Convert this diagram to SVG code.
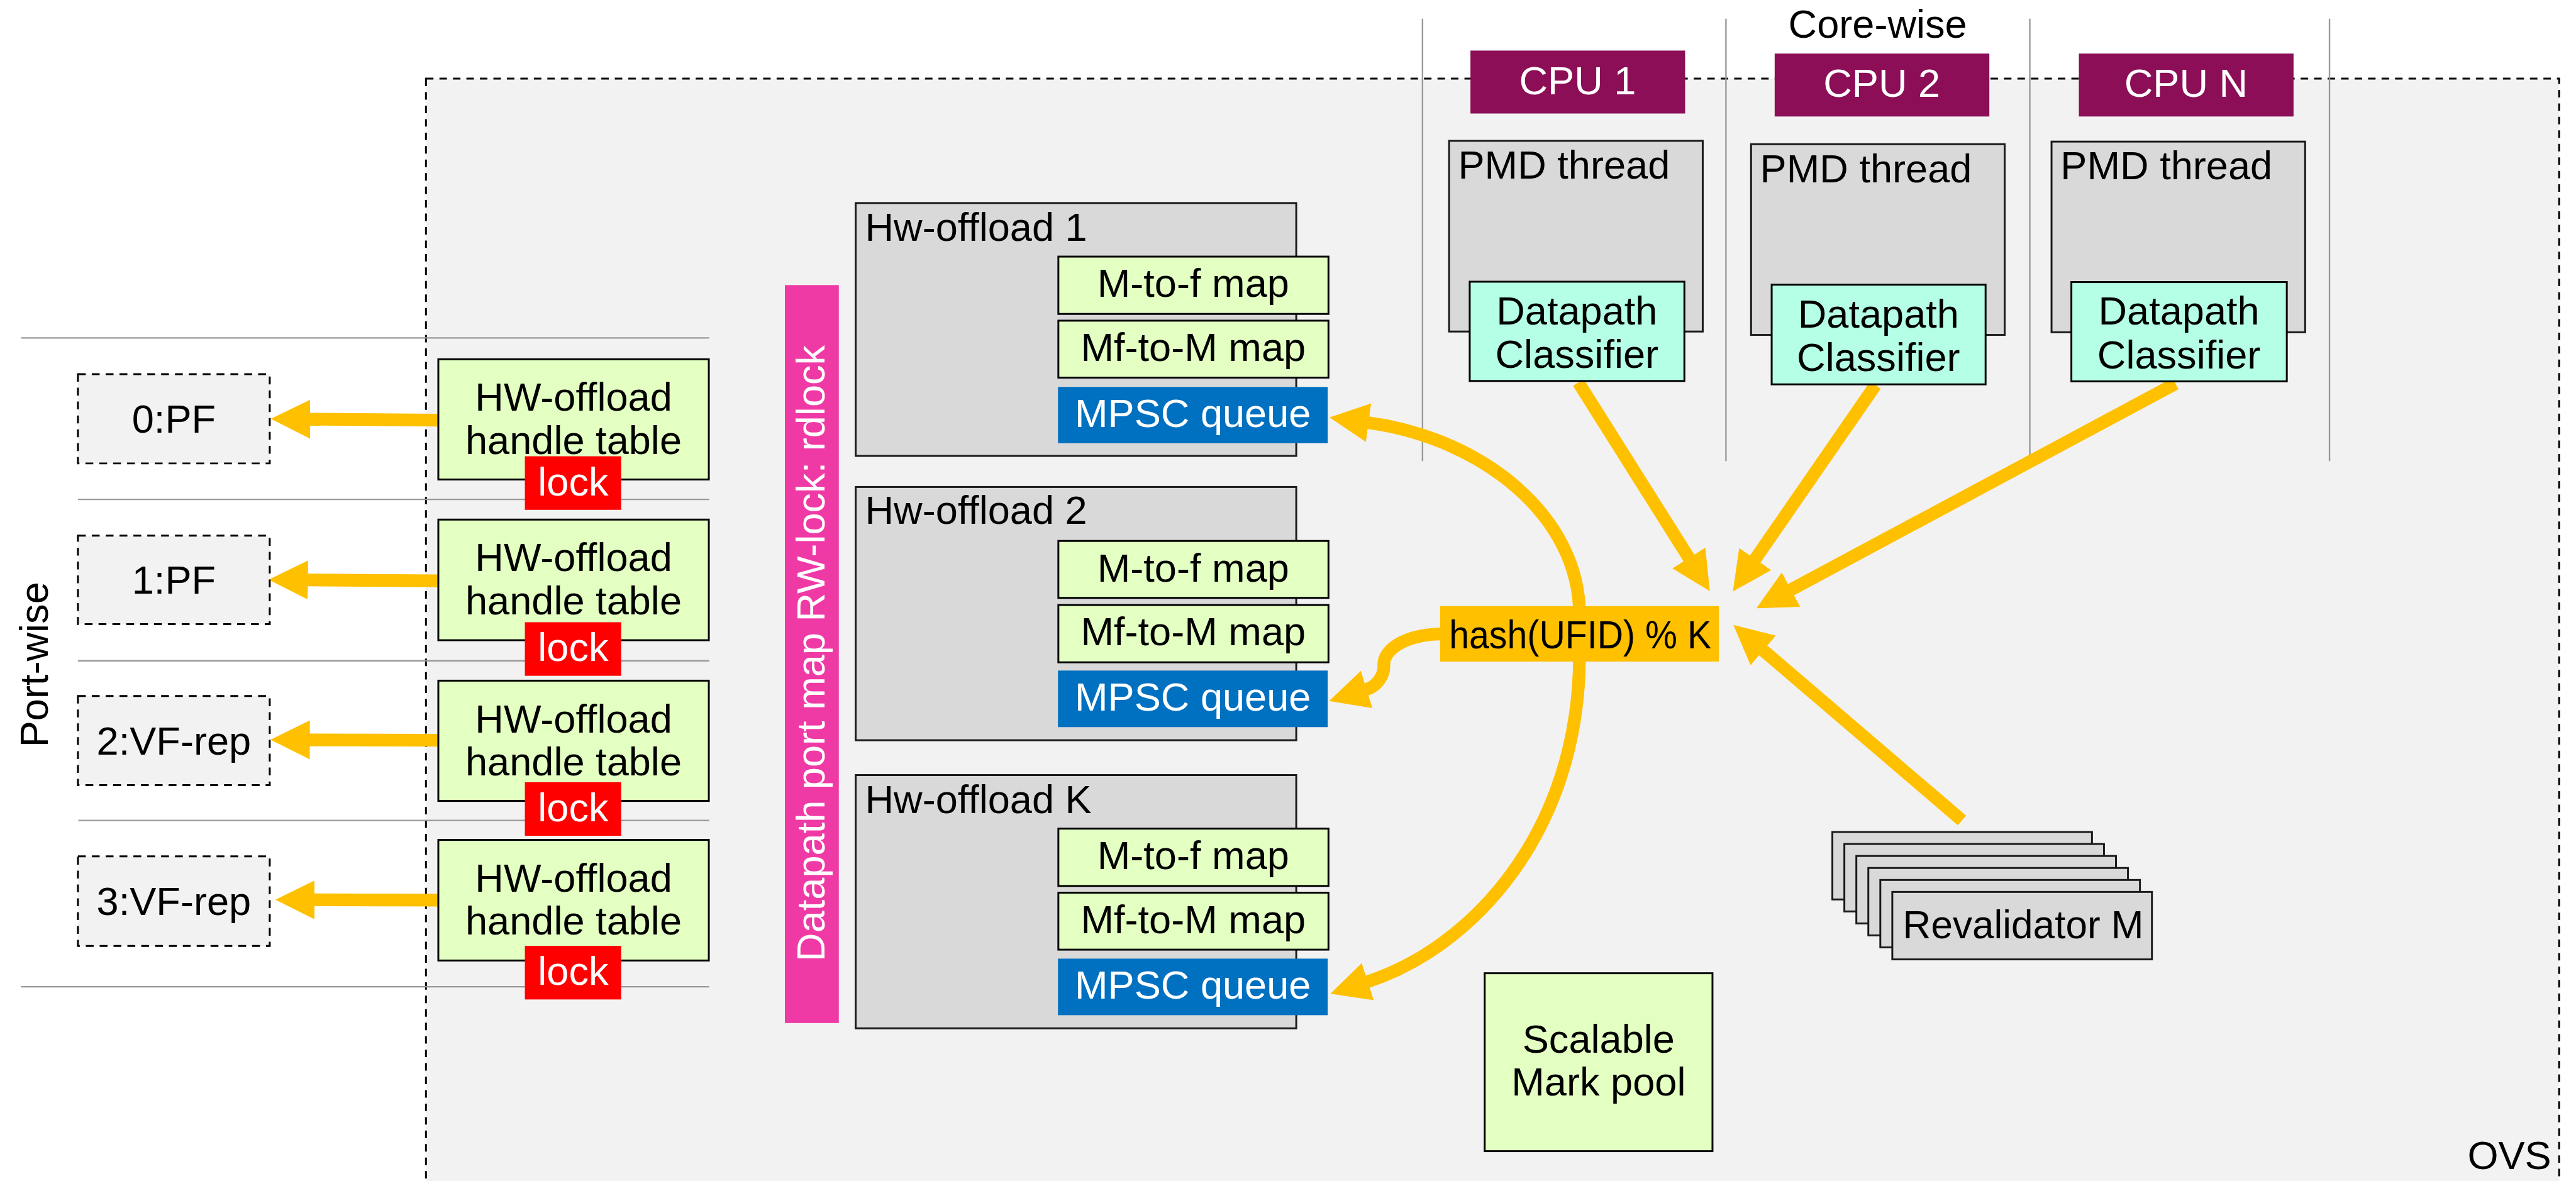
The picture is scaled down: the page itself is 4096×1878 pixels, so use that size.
<svg xmlns="http://www.w3.org/2000/svg" width="4096" height="1878" viewBox="0 0 4096 1878">
<defs>
<style>
text{font-family:"Liberation Sans",Arial,sans-serif;font-size:106px;fill:#000}
.c{text-anchor:middle}
.w{fill:#fff}
.ovs{fill:#f2f2f2;stroke:#000;stroke-width:5;stroke-dasharray:20 16}
.sep{stroke:#999;stroke-width:4;fill:none}
.port{fill:#f2f2f2;stroke:#000;stroke-width:5;stroke-dasharray:21 16}
.hw{fill:#e3ffc2;stroke:#000;stroke-width:5}
.lock{fill:#ff0000}
.gray{fill:#d9d9d9;stroke:#1a1a1a;stroke-width:5}
.mpsc{fill:#0070c0}
.cpu{fill:#8b0e57}
.cls{fill:#b4ffe6;stroke:#000;stroke-width:5}
.hash{fill:#ffc000}
.pink{fill:#ef3aa6}
.conn{fill:none;stroke:#ffc000;stroke-width:34;marker-end:url(#ah)}
</style>
<marker id="ah" markerUnits="userSpaceOnUse" viewBox="0 -54 108 108" refX="2" refY="0" markerWidth="108" markerHeight="108" orient="auto">
<path d="M0,-52 L105,0 L0,52 Z" fill="#ffc000"/>
</marker>
</defs>
<rect width="4096" height="1878" fill="#fff"/>
<g transform="scale(0.5957)">
<g id="ovs">
<rect class="ovs" x="1137" y="210" width="5694" height="3100"/>
<text x="6810" y="3120" style="text-anchor:end">OVS</text>
</g>
<g id="separators">
<line class="sep" x1="56" y1="902" x2="1893" y2="902"/>
<line class="sep" x1="208" y1="1333" x2="1893" y2="1333"/>
<line class="sep" x1="208" y1="1764" x2="1893" y2="1764"/>
<line class="sep" x1="209" y1="2190" x2="1893" y2="2190"/>
<line class="sep" x1="56" y1="2634" x2="1893" y2="2634"/>
<line class="sep" x1="3797" y1="50" x2="3797" y2="1231"/>
<line class="sep" x1="4607" y1="50" x2="4607" y2="1231"/>
<line class="sep" x1="5418" y1="50" x2="5418" y2="1231"/>
<line class="sep" x1="6218" y1="50" x2="6218" y2="1231"/>
<text class="c" x="5012" y="100">Core-wise</text>
<text class="c" transform="translate(128,1774) rotate(-90)">Port-wise</text>
</g>
<g id="connectors">
<path class="conn" d="M1170,1121.6 L826,1119"/>
<path class="conn" d="M1170,1550.5 L820,1548"/>
<path class="conn" d="M1170,1976 L825,1975"/>
<path class="conn" d="M1170,2403 L838,2402"/>
<path class="conn" d="M4213,1021 L4509,1491"/>
<path class="conn" d="M5006,1028 L4684,1494"/>
<path class="conn" d="M5807,1024 L4779,1575"/>
<path class="conn" d="M5237,2190 L4705,1735"/>
<path class="conn" d="M4216,1640 C4216,1380 3960,1170 3651,1128"/>
<path class="conn" d="M4216,1750 C4216,2220 3930,2530 3649,2621"/>
<path class="conn" d="M3860,1692 C3740,1692 3690,1740 3694,1778 C3694,1805 3675,1832 3646,1841"/>
</g>
<g id="port0"><rect class="port" x="208" y="999" width="512" height="238"/><text class="c" x="464" y="1155">0:PF</text></g>
<g id="port1"><rect class="port" x="208" y="1430" width="512" height="236"/><text class="c" x="464" y="1585">1:PF</text></g>
<g id="port2"><rect class="port" x="208" y="1858" width="512" height="238"/><text class="c" x="464" y="2014">2:VF-rep</text></g>
<g id="port3"><rect class="port" x="208" y="2286" width="512" height="239"/><text class="c" x="464" y="2443">3:VF-rep</text></g>
<g id="hwtable0"><rect class="hw" x="1170" y="959" width="722" height="321"/><text class="c" x="1531" y="1097">HW-offload</text><text class="c" x="1531" y="1212">handle table</text></g>
<g id="lock0"><rect class="lock" x="1401" y="1218" width="257" height="143"/><text class="c w" x="1530" y="1323">lock</text></g>
<g id="hwtable1"><rect class="hw" x="1170" y="1387" width="722" height="322"/><text class="c" x="1531" y="1525">HW-offload</text><text class="c" x="1531" y="1640">handle table</text></g>
<g id="lock1"><rect class="lock" x="1401" y="1661" width="257" height="143"/><text class="c w" x="1530" y="1765">lock</text></g>
<g id="hwtable2"><rect class="hw" x="1170" y="1817" width="722" height="321"/><text class="c" x="1531" y="1955">HW-offload</text><text class="c" x="1531" y="2070">handle table</text></g>
<g id="lock2"><rect class="lock" x="1401" y="2088" width="257" height="143"/><text class="c w" x="1530" y="2192">lock</text></g>
<g id="hwtable3"><rect class="hw" x="1170" y="2242" width="722" height="322"/><text class="c" x="1531" y="2380">HW-offload</text><text class="c" x="1531" y="2495">handle table</text></g>
<g id="lock3"><rect class="lock" x="1401" y="2525" width="257" height="143"/><text class="c w" x="1530" y="2629">lock</text></g>
<g id="portmap"><rect class="pink" x="2095" y="761" width="144" height="1970"/><text class="c w" transform="translate(2201,1744) rotate(-90)">Datapath port map RW-lock: rdlock</text></g>
<g id="hwoffload1">
<rect class="gray" x="2284" y="542" width="1176" height="675"/>
<text x="2309" y="643">Hw-offload 1</text>
<rect class="hw" x="2825" y="685" width="721" height="153"/><text class="c" x="3185" y="793">M-to-f map</text>
<rect class="hw" x="2825" y="856" width="721" height="152"/><text class="c" x="3185" y="964">Mf-to-M map</text>
<rect class="mpsc" x="2824" y="1033" width="720" height="150"/><text class="c w" x="3184" y="1140">MPSC queue</text>
</g>
<g id="hwoffload2">
<rect class="gray" x="2284" y="1300" width="1176" height="676"/>
<text x="2309" y="1399">Hw-offload 2</text>
<rect class="hw" x="2825" y="1444" width="721" height="152"/><text class="c" x="3185" y="1552">M-to-f map</text>
<rect class="hw" x="2825" y="1615" width="721" height="153"/><text class="c" x="3185" y="1723">Mf-to-M map</text>
<rect class="mpsc" x="2824" y="1790" width="720" height="151"/><text class="c w" x="3184" y="1897">MPSC queue</text>
</g>
<g id="hwoffloadK">
<rect class="gray" x="2284" y="2069" width="1176" height="676"/>
<text x="2309" y="2170">Hw-offload K</text>
<rect class="hw" x="2825" y="2212" width="721" height="153"/><text class="c" x="3185" y="2320">M-to-f map</text>
<rect class="hw" x="2825" y="2383" width="721" height="152"/><text class="c" x="3185" y="2491">Mf-to-M map</text>
<rect class="mpsc" x="2824" y="2559" width="720" height="151"/><text class="c w" x="3184" y="2666">MPSC queue</text>
</g>
<g id="cpu1"><rect class="cpu" x="3925" y="135" width="573" height="168"/><text class="c w" x="4211" y="251">CPU 1</text></g>
<g id="cpu2"><rect class="cpu" x="4737" y="143" width="573" height="168"/><text class="c w" x="5023" y="259">CPU 2</text></g>
<g id="cpuN"><rect class="cpu" x="5549" y="143" width="573" height="168"/><text class="c w" x="5835" y="259">CPU N</text></g>
<g id="pmd1"><rect class="gray" x="3868" y="376" width="677" height="509"/><text x="3892" y="477">PMD thread</text>
<rect class="cls" x="3923" y="752" width="573" height="265"/><text class="c" x="4209" y="866">Datapath</text><text class="c" x="4209" y="982">Classifier</text></g>
<g id="pmd2"><rect class="gray" x="4674" y="385" width="677" height="509"/><text x="4698" y="486">PMD thread</text>
<rect class="cls" x="4729" y="760" width="571" height="266"/><text class="c" x="5014" y="874">Datapath</text><text class="c" x="5014" y="990">Classifier</text></g>
<g id="pmdN"><rect class="gray" x="5476" y="378" width="677" height="509"/><text x="5500" y="479">PMD thread</text>
<rect class="cls" x="5529" y="753" width="575" height="265"/><text class="c" x="5816" y="867">Datapath</text><text class="c" x="5816" y="983">Classifier</text></g>
<g id="hash"><rect class="hash" x="3844" y="1618" width="744" height="148"/><text x="3868" y="1731" textLength="700" lengthAdjust="spacingAndGlyphs">hash(UFID) % K</text></g>
<g id="revalidators">
<rect class="gray" x="4891" y="2221" width="693" height="180"/>
<rect class="gray" x="4923" y="2253" width="693" height="180"/>
<rect class="gray" x="4955" y="2285" width="693" height="180"/>
<rect class="gray" x="4987" y="2317" width="693" height="180"/>
<rect class="gray" x="5019" y="2349" width="693" height="180"/>
<rect class="gray" x="5051" y="2381" width="693" height="180"/>
<text x="5079" y="2504" textLength="643" lengthAdjust="spacingAndGlyphs">Revalidator M</text>
</g>
<g id="markpool"><rect class="hw" x="3963" y="2598" width="608" height="475"/><text class="c" x="4267" y="2810">Scalable</text><text class="c" x="4267" y="2925">Mark pool</text></g>
</g>
</svg>
